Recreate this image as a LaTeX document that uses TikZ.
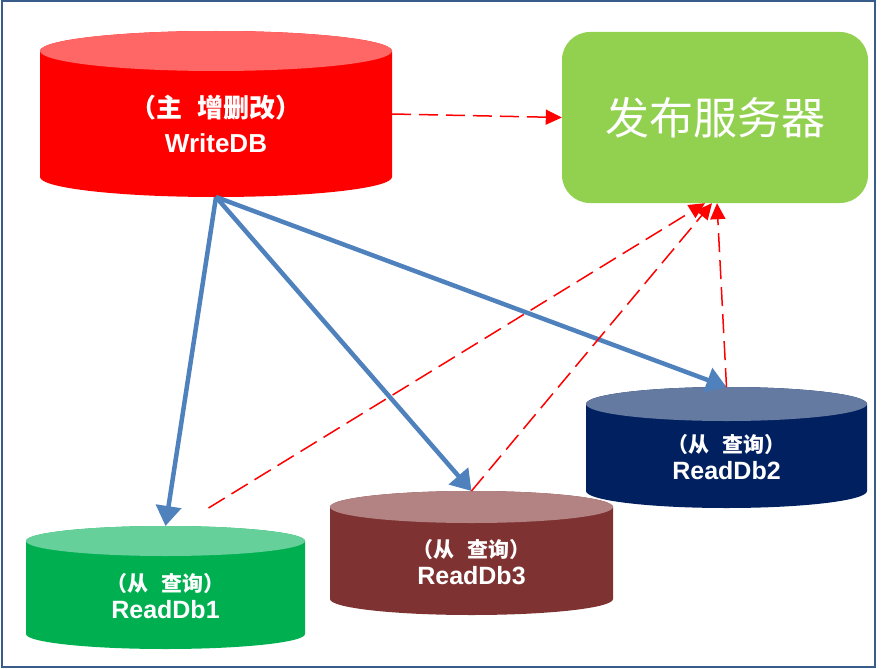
\documentclass[tikz,border=0pt]{standalone}
\usepackage{fontspec}
\setmainfont{Liberation Sans}
\newfontfamily\cjk{Noto Sans CJK SC}
\usetikzlibrary{calc,arrows.meta}
\definecolor{framecol}{HTML}{385D8A}
\definecolor{wrbody}{HTML}{FF0000}
\definecolor{wrtop}{HTML}{FF6666}
\definecolor{navybody}{HTML}{002060}
\definecolor{navytop}{HTML}{657AA1}
\definecolor{brownbody}{HTML}{7F3232}
\definecolor{browntop}{HTML}{B38282}
\definecolor{greenbody}{HTML}{00B050}
\definecolor{greentop}{HTML}{66D09A}
\definecolor{pubgreen}{HTML}{92D050}
\definecolor{syncblue}{HTML}{4F81BD}
\tikzset{
    dbbox/.style   = {rectangle, draw=none, inner sep=0pt, outer sep=0pt},
    dbtext/.style  = {align=center, text=white, inner sep=0pt},
    pubbox/.style  = {rectangle, rounded corners=28pt, fill=pubgreen, text=white,
                      minimum width=306pt, minimum height=171pt},
    syncline/.style = {syncblue, line width=4.5pt, -{Triangle[length=20pt,width=25pt]}},
    pushline/.style = {red, line width=1.5pt, dash pattern=on 19pt off 8pt,
                      -{Triangle[length=16pt,width=15pt]}},
}
% cylinder: name, x, y, half width, height, end radius, body colour, top colour
\newcommand*{\dbcyl}[8]{%
    \node [dbbox, minimum width=2*#4, minimum height=#5] (#1) at (#2,#3) {};
    \fill [#7] ($(#1.north west)+(0,#6)$) -- ($(#1.south west)+(0,-#6)$)
        arc [start angle=180, end angle=360, x radius=#4pt, y radius=#6pt]
        -- ($(#1.north east)+(0,#6)$)
        arc [start angle=0, end angle=180, x radius=#4pt, y radius=#6pt] -- cycle;
    \fill [#8] ($(#1.north)+(0,#6)$) ellipse [x radius=#4pt, y radius=#6pt];
}
\newcommand*{\readfont}{\bfseries\fontsize{25}{27}\selectfont}

\begin{document}
\begin{tikzpicture}[x=1pt, y=-1pt]
    \useasboundingbox (0,0) rectangle (881,669);
    \draw [framecol, line width=2pt] (2,1) rectangle (875,667);

    \dbcyl{wdb}{216}{114}{176}{166}{20}{wrbody}{wrtop}
    \dbcyl{rd2}{726.5}{447.5}{140.5}{121}{17}{navybody}{navytop}
    \dbcyl{rd3}{471.5}{553}{141.5}{124}{16}{brownbody}{browntop}
    \dbcyl{rd1}{165.5}{587.5}{139.5}{123}{15}{greenbody}{greentop}

    \node [dbtext, font=\bfseries\fontsize{26}{35}\selectfont] (wdb-txt) at ($(wdb)+(0,10)$)
        {{\cjk\fontsize{26}{35}\selectfont （主\hspace{0.6em}增删改）}\\WriteDB};
    \node [dbtext, font=\readfont] (rd2-txt) at ($(rd2)+(0,10)$)
        {{\cjk\fontsize{21}{27}\selectfont （从\hspace{0.6em}查询）}\\ReadDb2};
    \node [dbtext, font=\readfont] (rd3-txt) at ($(rd3)+(0,9)$)
        {{\cjk\fontsize{21}{27}\selectfont （从\hspace{0.6em}查询）}\\ReadDb3};
    \node [dbtext, font=\readfont] (rd1-txt) at ($(rd1)+(0,9)$)
        {{\cjk\fontsize{21}{27}\selectfont （从\hspace{0.6em}查询）}\\ReadDb1};

    \node [pubbox, font=\cjk\fontsize{44}{50}\selectfont] (pub) at (715,117.5) {发布服务器};

    % replication
    \draw [syncline] (wdb.south) -- (rd1.north);
    \draw [syncline] (wdb.south) -- (rd3.north);
    \draw [syncline] (wdb.south) -- (rd2.north);

    % publishing
    \coordinate (rd1-out) at ($(rd1.north)+(43,-18)$);
    \draw [pushline] (wdb.east) -- (pub.west);
    \draw [pushline] (rd1-out) -- ([xshift=-10pt]pub.south);
    \draw [pushline] (rd3.north) -- ([xshift=-3pt]pub.south);
    \draw [pushline] (rd2.north) -- ([xshift=2pt]pub.south);
\end{tikzpicture}
\end{document}
